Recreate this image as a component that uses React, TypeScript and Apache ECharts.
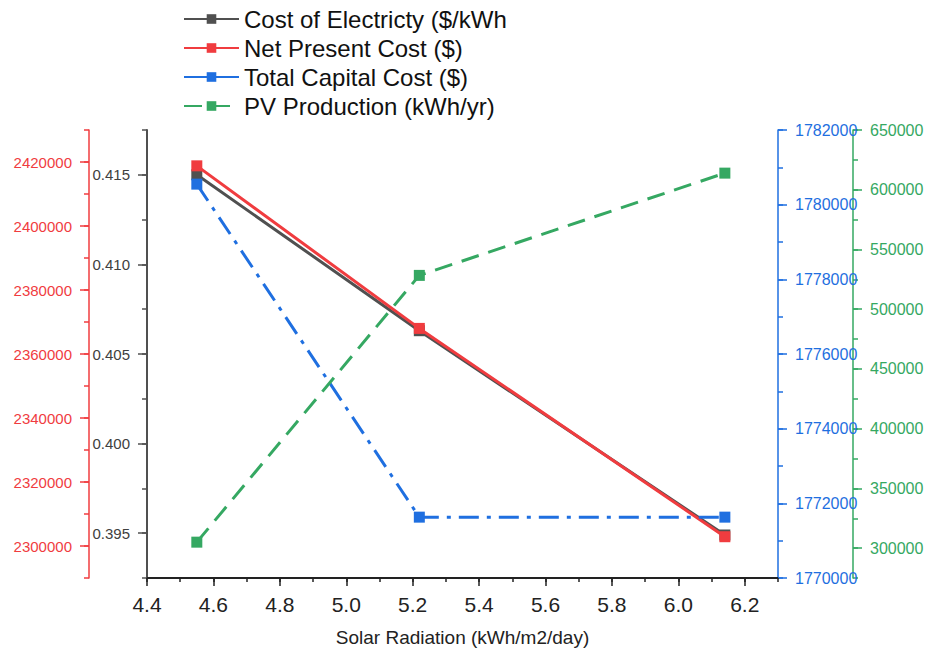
import React, { useEffect, useRef } from "react";
import * as echarts from "echarts";

const radiation = [4.55, 5.22, 6.14];
const costOfElectricity = [0.415, 0.4063, 0.3949];
const netPresentCost = [2418800, 2368000, 2302900];
const totalCapitalCost = [1780550, 1771630, 1771630];
const pvProduction = [305000, 528300, 613900];

const seriesNames = [
  "Cost of Electricty ($/kWh",
  "Net Present Cost ($)",
  "Total Capital Cost ($)",
  "PV Production (kWh/yr)",
];

const xTicks = [4.4, 4.6, 4.8, 5.0, 5.2, 5.4, 5.6, 5.8, 6.0, 6.2];
const coeTicks = [0.395, 0.4, 0.405, 0.41, 0.415];
const npcTicks = [2300000, 2320000, 2340000, 2360000, 2380000, 2400000, 2420000];
const tccTicks = [1770000, 1772000, 1774000, 1776000, 1778000, 1780000, 1782000];
const pvTicks = [300000, 350000, 400000, 450000, 500000, 550000, 600000, 650000];

const FONT = "Liberation Sans, Arial, sans-serif";
const C_BLACK = "#505050";
const C_RED = "#f03c3f";
const C_BLUE = "#1f6fe0";
const C_GREEN = "#35a862";

function pts(ys: number[]) {
  return radiation.map((x, i) => [x, ys[i]]);
}

function mainAxis(
  position: "left" | "right",
  offset: number,
  min: number,
  max: number,
  interval: number,
  ticks: number[],
  color: string,
  labelColor: string,
  fmt: (v: number) => string,
  fontSize: number,
  lineWidth = 1.5
) {
  return {
    type: "value",
    position,
    offset,
    min,
    max,
    interval,
    splitLine: { show: false },
    axisLine: { show: true, lineStyle: { color, width: lineWidth } },
    axisTick: { show: true, customValues: ticks, length: 9, lineStyle: { color, width: 1.5 } },
    axisLabel: {
      show: true,
      customValues: ticks,
      formatter: (v: number) => fmt(v),
      color: labelColor,
      fontSize,
      fontFamily: FONT,
      margin: 17,
    },
  };
}

function minorAxis(
  position: "left" | "right",
  offset: number,
  min: number,
  max: number,
  interval: number,
  color: string
) {
  return {
    type: "value",
    position,
    offset,
    min,
    max,
    interval,
    splitLine: { show: false },
    axisLine: { show: false },
    axisTick: { show: true, length: 5, lineStyle: { color, width: 1.5 } },
    axisLabel: { show: false },
  };
}

export default function App() {
  const ref = useRef<HTMLDivElement>(null);
  useEffect(() => {
    document.body.style.margin = "0";
    if (!ref.current) return;
    const chart = echarts.init(ref.current, null, { renderer: "svg" });
    const option: any = {
      animation: false,
      backgroundColor: "#ffffff",
      grid: { left: 147, right: 152, top: 130, bottom: 76, containLabel: false },
      legend: {
        orient: "vertical",
        left: 178,
        top: 2,
        itemWidth: 55,
        itemHeight: 12,
        itemGap: 5,
        textStyle: { fontSize: 24, fontFamily: FONT, color: "#111", lineHeight: 24 },
        data: [
          { name: seriesNames[0] },
          { name: seriesNames[1] },
          { name: seriesNames[2], lineStyle: { type: "solid" } },
          { name: seriesNames[3] },
        ],
      },
      xAxis: [
        {
          type: "value",
          min: 4.4,
          max: 6.3,
          interval: 0.2,
          name: "Solar Radiation (kWh/m2/day)",
          nameLocation: "middle",
          nameGap: 50,
          nameTextStyle: { fontSize: 19, fontFamily: FONT, color: "#222" },
          splitLine: { show: false },
          axisLine: { show: true, onZero: false, lineStyle: { color: "#222", width: 2 } },
          axisTick: { show: true, customValues: xTicks, length: 8, lineStyle: { color: "#222", width: 1.5 } },
          axisLabel: {
            customValues: xTicks,
            formatter: (v: number) => v.toFixed(1),
            fontSize: 21,
            fontFamily: FONT,
            color: "#222",
            margin: 16,
          },
        },
        {
          type: "value",
          min: 4.4,
          max: 6.3,
          interval: 0.1,
          position: "bottom",
          splitLine: { show: false },
          axisLine: { show: false, onZero: false },
          axisTick: { show: true, length: 4, lineStyle: { color: "#222", width: 1.5 } },
          axisLabel: { show: false },
        },
      ],
      yAxis: [
        mainAxis("left", 0, 0.3925, 0.4175, 0.0025, coeTicks, C_BLACK, "#404040", (v) => v.toFixed(3), 15, 2),
        mainAxis("left", 58, 2290000, 2430000, 10000, npcTicks, C_RED, C_RED, (v) => String(Math.round(v)), 15),
        mainAxis("right", 0, 1770000, 1782000, 1000, tccTicks, C_BLUE, C_BLUE, (v) => String(Math.round(v)), 16),
        mainAxis("right", 75, 275000, 650000, 25000, pvTicks, C_GREEN, C_GREEN, (v) => String(Math.round(v)), 16),
        minorAxis("left", 0, 0.3925, 0.4175, 0.0025, C_BLACK),
        minorAxis("left", 58, 2290000, 2430000, 10000, C_RED),
        minorAxis("right", 0, 1770000, 1782000, 1000, C_BLUE),
        minorAxis("right", 75, 275000, 650000, 25000, C_GREEN),
      ],
      series: [
        {
          name: seriesNames[0],
          type: "line",
          yAxisIndex: 0,
          data: pts(costOfElectricity),
          symbol: "rect",
          symbolSize: 11,
          lineStyle: { color: C_BLACK, width: 3 },
          itemStyle: { color: C_BLACK },
          z: 2,
        },
        {
          name: seriesNames[1],
          type: "line",
          yAxisIndex: 1,
          data: pts(netPresentCost),
          symbol: "rect",
          symbolSize: 11,
          lineStyle: { color: C_RED, width: 3 },
          itemStyle: { color: C_RED },
          z: 3,
        },
        {
          name: seriesNames[2],
          type: "line",
          yAxisIndex: 2,
          data: pts(totalCapitalCost),
          symbol: "rect",
          symbolSize: 11,
          lineStyle: { color: C_BLUE, width: 3, type: [20, 8, 4, 8] },
          itemStyle: { color: C_BLUE },
          z: 4,
        },
        {
          name: seriesNames[3],
          type: "line",
          yAxisIndex: 3,
          data: pts(pvProduction),
          symbol: "rect",
          symbolSize: 11,
          lineStyle: { color: C_GREEN, width: 3, type: [18, 10] },
          itemStyle: { color: C_GREEN },
          z: 5,
        },
      ],
    };
    chart.setOption(option);
    return () => chart.dispose();
  }, []);
  return <div ref={ref} style={{ width: 930, height: 654 }} />;
}
